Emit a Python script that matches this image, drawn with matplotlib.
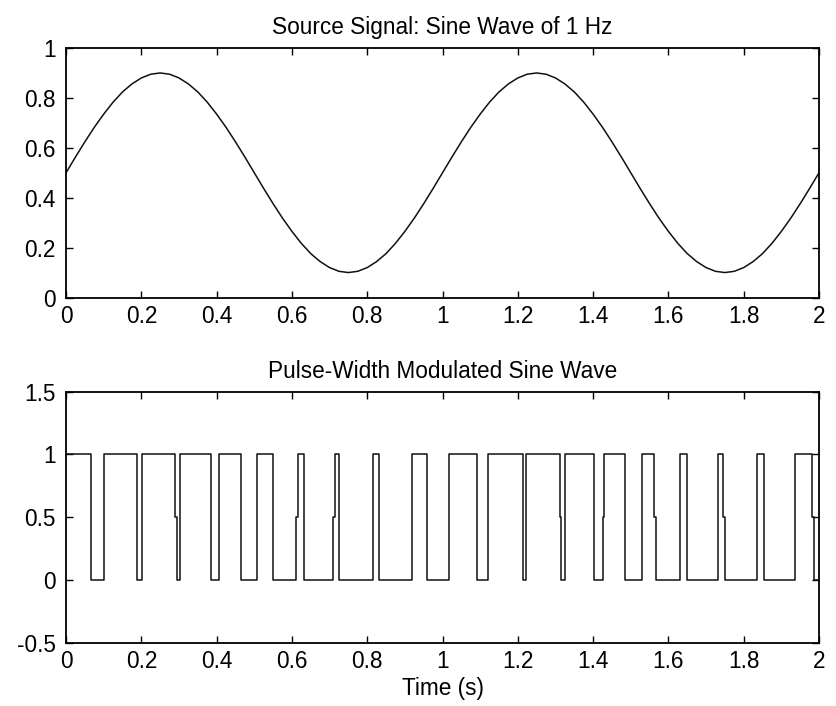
import numpy as np
import matplotlib
matplotlib.use("Agg")
import matplotlib.pyplot as plt

# Source signal, sampled every 0.025 s over 0..2 s
t_sine = [i * 0.025 for i in range(81)]
sine_vals = [
    0.5, 0.563, 0.624, 0.682, 0.735, 0.783, 0.824, 0.856, 0.880, 0.895,
    0.9, 0.895, 0.880, 0.856, 0.824, 0.783, 0.735, 0.682, 0.624, 0.563,
    0.5, 0.437, 0.376, 0.318, 0.265, 0.217, 0.176, 0.144, 0.120, 0.105,
    0.1, 0.105, 0.120, 0.144, 0.176, 0.217, 0.265, 0.318, 0.376, 0.437,
    0.5, 0.563, 0.624, 0.682, 0.735, 0.783, 0.824, 0.856, 0.880, 0.895,
    0.9, 0.895, 0.880, 0.856, 0.824, 0.783, 0.735, 0.682, 0.624, 0.563,
    0.5, 0.437, 0.376, 0.318, 0.265, 0.217, 0.176, 0.144, 0.120, 0.105,
    0.1, 0.105, 0.120, 0.144, 0.176, 0.217, 0.265, 0.318, 0.376, 0.437,
    0.5,
]

# PWM pulses (high intervals)
pulse_start = [0.0, 0.101, 0.201, 0.303, 0.406, 0.506, 0.610, 0.710, 0.816, 0.918,
               1.018, 1.120, 1.222, 1.324, 1.425, 1.531, 1.632, 1.732, 1.836, 1.936]
pulse_end = [0.065, 0.189, 0.289, 0.385, 0.466, 0.549, 0.631, 0.724, 0.830, 0.959,
             1.092, 1.213, 1.311, 1.403, 1.486, 1.563, 1.650, 1.745, 1.853, 1.981]
# edges that pass through an intermediate 0.5 sample
half_edges = [0.289, 0.610, 0.710, 1.311, 1.425, 1.563, 1.745, 1.981]
half_dt = 0.005

# build the pwm polyline
px, py = [], []
for s, e in zip(pulse_start, pulse_end):
    if s == 0.0:
        px += [s]
        py += [1]
    elif s in half_edges:
        px += [s, s, s + half_dt, s + half_dt]
        py += [0, 0.5, 0.5, 1]
    else:
        px += [s, s]
        py += [0, 1]
    if e in half_edges:
        px += [e, e, e + half_dt, e + half_dt]
        py += [1, 0.5, 0.5, 0]
    else:
        px += [e, e]
        py += [1, 0]
px.append(2.0)
py.append(0)

plt.rcParams["font.family"] = ["Liberation Sans", "DejaVu Sans"]
plt.rcParams["font.size"] = 16.3

fig = plt.figure(figsize=(8.37, 7.06), dpi=100)
ax1 = fig.add_axes([0.0789, 0.5786, 0.8996, 0.3534])
ax2 = fig.add_axes([0.0789, 0.0897, 0.8996, 0.3555])

ax1.plot(t_sine, sine_vals, color="#111111", linewidth=1.1)
ax1.set_xlim(0, 2)
ax1.set_ylim(0, 1)
ax1.set_xticks(np.arange(0, 2.01, 0.2))
ax1.set_xticklabels(["0", "0.2", "0.4", "0.6", "0.8", "1", "1.2", "1.4", "1.6", "1.8", "2"])
ax1.set_yticks([0, 0.2, 0.4, 0.6, 0.8, 1])
ax1.set_yticklabels(["0", "0.2", "0.4", "0.6", "0.8", "1"])
ax1.set_title("Source Signal: Sine Wave of 1 Hz", pad=10, fontsize=16.3)

ax2.plot(px, py, color="#111111", linewidth=1.1)
ax2.set_xlim(0, 2)
ax2.set_ylim(-0.5, 1.5)
ax2.set_xticks(np.arange(0, 2.01, 0.2))
ax2.set_xticklabels(["0", "0.2", "0.4", "0.6", "0.8", "1", "1.2", "1.4", "1.6", "1.8", "2"])
ax2.set_yticks([-0.5, 0, 0.5, 1, 1.5])
ax2.set_yticklabels(["-0.5", "0", "0.5", "1", "1.5"])
ax2.set_title("Pulse-Width Modulated Sine Wave", pad=10, fontsize=16.3)
ax2.set_xlabel("Time (s)", labelpad=3)

for ax in (ax1, ax2):
    ax.tick_params(direction="in", length=5, width=1, top=True, right=True, color="black")
    ax.tick_params(axis="x", pad=5.5)
    ax.tick_params(axis="y", pad=7.5)
    for sp in ax.spines.values():
        sp.set_linewidth(1.3)
        sp.set_color("black")

fig.savefig("out.png", dpi=100)
